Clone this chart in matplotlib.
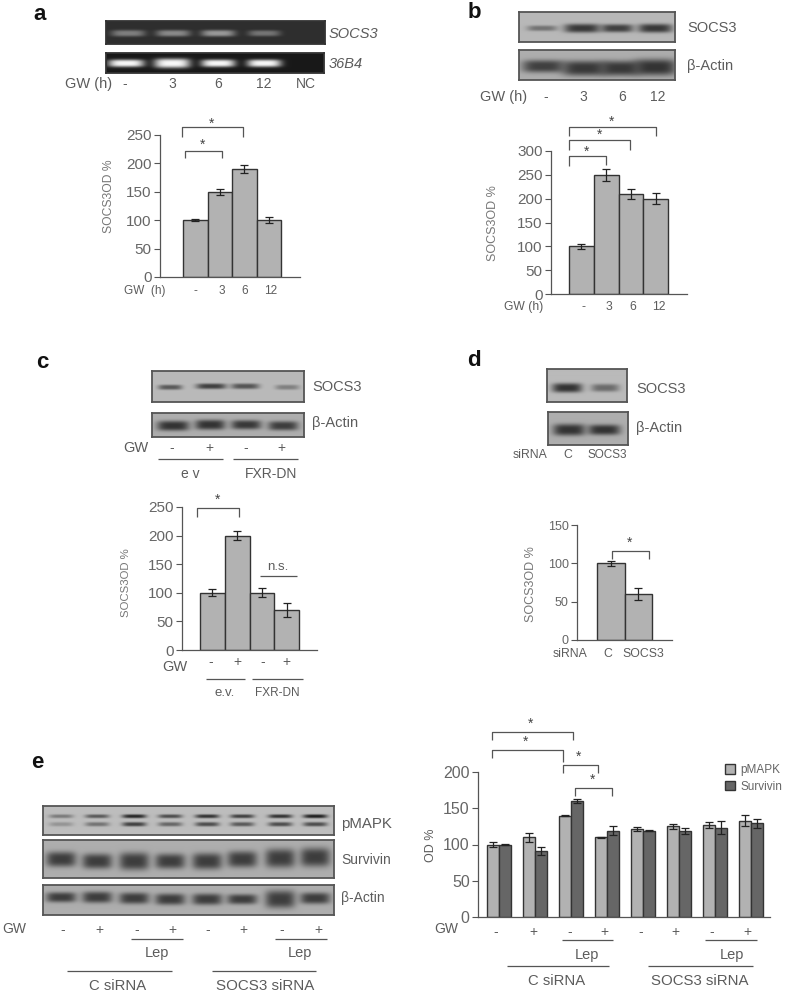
import numpy as np
import matplotlib
matplotlib.use("Agg")
import matplotlib.pyplot as plt

W, H = 787, 993
plt.rcParams['font.family'] = ['Liberation Sans', 'DejaVu Sans']
TXT = '#5c5c5c'
AX = '#555555'
BAR = '#b2b2b2'
BAR2 = '#666666'
EDGE = '#333333'

# ---- values ----
a_values = [100, 150, 190, 100]
a_errors = [1.5, 5, 7, 5]
a_ticks = [0, 50, 100, 150, 200, 250]
b_values = [100, 250, 210, 200]
b_errors = [5, 12, 10, 12]
b_ticks = [0, 50, 100, 150, 200, 250, 300]
c_values = [100, 200, 100, 70]
c_errors = [6, 8, 8, 12]
c_ticks = [0, 50, 100, 150, 200, 250]
d_values = [100, 60]
d_errors = [3, 8]
d_ticks = [0, 50, 100, 150]
e_pmapk = [100, 110, 140, 110, 121, 125, 127, 133]
e_pmapk_err = [4, 6, 1, 1, 3, 3, 4, 8]
e_survivin = [100, 91, 160, 119, 119, 119, 123, 129]
e_survivin_err = [1, 5, 3, 6, 1, 4, 9, 6]
e_ticks = [0, 50, 100, 150, 200]

fig = plt.figure(figsize=(W / 100, H / 100), dpi=100, facecolor='white')


def px_axes(x0, x1, ytop, ybot):
    return fig.add_axes([x0 / W, 1 - ybot / H, (x1 - x0) / W, (ybot - ytop) / H])


def gel(box, bg, bands, edge='#555555'):
    """box = x0,x1,y0,y1 px; bands = (xc, yc, half-w, half-h, tone)."""
    x0, x1, y0, y1 = box
    xx, yy = np.meshgrid(np.arange(x0, x1, 0.5), np.arange(y0, y1, 0.5))
    img = np.full(xx.shape, float(bg))
    for xc, yc, hw, hh, tone in bands:
        m = np.exp(-np.abs((xx - xc) / hw) ** 4 - np.abs((yy - yc) / (hh * 1.25)) ** 3)
        img = img + (tone - img) * m
    ax = px_axes(x0, x1, y0, y1)
    ax.imshow(img, cmap='gray', vmin=0, vmax=1, aspect='auto', interpolation='bilinear')
    ax.set_xticks([])
    ax.set_yticks([])
    for s in ax.spines.values():
        s.set_color(edge)
        s.set_linewidth(1.3)


def style(ax, ticks, fs, ymax):
    ax.set_ylim(0, ymax)
    ax.set_yticks(ticks)
    ax.set_xticks([])
    ax.patch.set_alpha(0)
    ax.spines['top'].set_visible(False)
    ax.spines['right'].set_visible(False)
    for s in ('left', 'bottom'):
        ax.spines[s].set_color(AX)
        ax.spines[s].set_linewidth(0.9)
    ax.tick_params(axis='y', length=4, width=0.8, color=AX, labelcolor='#666666',
                   labelsize=fs, pad=2)


def single_chart(values, errors, ticks, ymax, ax_box, bar_left, bar_w, fs):
    x0, x1, ytop, ybot = ax_box
    ax = px_axes(x0, x1, ytop, ybot)
    c0 = bar_left + bar_w / 2
    ax.set_xlim((x0 - c0) / bar_w, (x1 - c0) / bar_w)
    pos = np.arange(len(values))
    ax.bar(pos, values, width=1.0, color=BAR, edgecolor=EDGE, linewidth=1.0,
           yerr=errors, error_kw=dict(ecolor='#222222', elinewidth=0.9, capsize=2.8, capthick=0.9))
    style(ax, ticks, fs, ymax)
    return ax


# ---- panel a ----
gel((106, 325, 21, 44), 0.18,
    [(128, 33, 17, 2.6, .5), (173, 33, 17, 2.6, .54), (218, 33, 17, 2.6, .6), (264, 33, 16, 2.4, .46)], '#333333')
gel((106, 324, 53, 73), 0.1,
    [(126, 63, 18, 3, .97), (172, 63, 18, 3.8, .97), (218, 63, 17, 3, .97), (264, 63, 17, 3, .97)], '#333333')
single_chart(a_values, a_errors, a_ticks, 250, (160, 300, 135, 277), 183, 24.5, 11)

# ---- panel b ----
gel((519, 675, 12, 42), 0.72,
    [(542, 28, 15, 2.2, .45), (582, 28, 18, 3.5, .22), (617, 28, 16, 3.2, .25), (655, 28, 17, 3.5, .22)])
gel((519, 675, 50, 80), 0.68,
    [(543, 66, 21, 5, .25), (584, 68, 22, 6, .22), (620, 68, 20, 6, .22), (655, 67, 21, 6.5, .2)])
single_chart(b_values, b_errors, b_ticks, 300, (551, 687, 151, 294), 569, 24.75, 11)

# ---- panel c ----
gel((152, 304, 371, 402), 0.73,
    [(170, 387, 12, 2, .35), (211, 386, 15, 2.2, .25), (245, 386, 14, 2.2, .33), (287, 387, 12, 2, .5)])
gel((152, 304, 413, 437), 0.68,
    [(173, 426, 16, 3.8, .2), (210, 425, 15, 3.8, .2), (246, 425, 15, 3.5, .22), (283, 426, 15, 3.5, .24)])
single_chart(c_values, c_errors, c_ticks, 250, (182, 317, 507, 650), 200, 24.75, 11)

# ---- panel d ----
gel((547, 627, 369, 402), 0.73, [(567, 388, 15, 3.6, .2), (605, 388, 14, 3, .42)])
gel((548, 628, 412, 445), 0.68, [(569, 430, 16, 4.5, .2), (604, 430, 16, 4, .2)])
single_chart(d_values, d_errors, d_ticks, 150, (577, 672, 525, 640), 597, 27.5, 9)

# ---- panel e gels ----
lanes = [61, 97, 134, 170, 207, 242, 280, 315]
upper = [.48, .35, .15, .3, .2, .25, .2, .12]
lower = [.58, .45, .25, .4, .3, .35, .3, .3]
gel((43, 334, 806, 835), 0.74,
    [(x, 816, 12, 1.5, t) for x, t in zip(lanes, upper)] +
    [(x, 824, 12, 1.7, t) for x, t in zip(lanes, lower)])
surv_h = [6, 6, 7, 6, 6.5, 6.5, 7.5, 7.5]
surv_y = [859, 861, 861, 861, 861, 859, 858, 857]
gel((43, 334, 840, 878), 0.68,
    [(x, y, 15, h, .24) for x, y, h in zip(lanes, surv_y, surv_h)])
act_h = [4, 4.5, 4.5, 4.5, 4.5, 4, 7, 4.5]
act_y = [897, 897, 898, 899, 899, 899, 899, 898]
gel((43, 334, 885, 915), 0.68,
    [(x, y, 15, h, .24) for x, y, h in zip(lanes, act_y, act_h)])

# ---- panel e chart ----
ax = px_axes(478, 770, 772, 917)
spacing = 36.0
first = 499.0
ax.set_xlim((478 - first) / spacing, (770 - first) / spacing)
pos = np.arange(len(e_pmapk))
ek = dict(ecolor='#222222', elinewidth=0.9, capsize=2.6, capthick=0.9)
ax.bar(pos - 0.17, e_pmapk, width=0.32, color=BAR, edgecolor=EDGE, linewidth=1.0, yerr=e_pmapk_err,
       error_kw=ek, label='pMAPK')
ax.bar(pos + 0.17, e_survivin, width=0.32, color=BAR2, edgecolor=EDGE, linewidth=1.0, yerr=e_survivin_err,
       error_kw=ek, label='Survivin')
style(ax, e_ticks, 11.5, 200)
leg = ax.legend(loc='upper left', bbox_to_anchor=((725 - 478) / 292, 1.055), frameon=False, fontsize=8.5,
                labelcolor='#666666', handlelength=0.85, handleheight=0.85, handletextpad=0.45,
                labelspacing=0.4, borderpad=0, borderaxespad=0)

# ---- overlay for labels and brackets, in picture pixels ----
ov = fig.add_axes([0, 0, 1, 1], zorder=20)
ov.set_xlim(0, W)
ov.set_ylim(H, 0)
ov.axis('off')


def T(x, y, s, fs=10, ha='center', color=TXT, **kw):
    ov.text(x, y, s, fontsize=fs, ha=ha, va='center', color=color, **kw)


def L(xs, ys, lw=0.9, color='#555555'):
    ov.plot(xs, ys, color=color, lw=lw, solid_capstyle='butt')


def bracket(x0, x1, top, bl, br, star=None):
    L([x0, x0, x1, x1], [bl, top, top, br])
    if star:
        T(star[0], star[1] + 2, '*', 10, color='#444444')


for x, y, s in [(40, 15, 'a'), (474, 12, 'b'), (42, 363, 'c'), (474, 360, 'd'), (37, 763, 'e')]:
    T(x, y, s, 16, color='#111111', fontweight='bold')

# a
T(329, 34, 'SOCS3', 10.5, 'left', style='italic')
T(329, 64, '36B4', 10.5, 'left', style='italic')
T(65, 84, 'GW (h)', 10.5, 'left')
for x, s in [(125, '-'), (172, '3'), (218, '6'), (264, '12'), (306, 'NC')]:
    T(x, 84, s, 10)
T(124, 291, 'GW  (h)', 8.5, 'left')
for x, s in [(195, '-'), (222, '3'), (245, '6'), (271, '12')]:
    T(x, 291, s, 8.5)
T(109, 196, 'SOCS3OD %', 8.7, rotation=90, color='#777777')
bracket(182, 243, 127, 137, 137, (212, 122))
bracket(185, 222, 151, 158, 158, (203, 143))

# b
T(687, 28, 'SOCS3', 10.5, 'left')
T(687, 66, 'β-Actin', 10.5, 'left')
T(480, 97, 'GW (h)', 10.5, 'left')
for x, s in [(546, '-'), (583, '3'), (622, '6'), (658, '12')]:
    T(x, 97, s, 10)
T(504, 307, 'GW (h)', 8.7, 'left')
for x, s in [(583, '-'), (609, '3'), (633, '6'), (659, '12')]:
    T(x, 307, s, 8.7)
T(493, 223, 'SOCS3OD %', 9, rotation=90, color='#777777')
bracket(569, 606, 156, 166, 165, (587, 150))
bracket(569, 630, 140, 150, 150, (600, 133))
bracket(569, 656, 127, 136, 136, (612, 120))

# c
T(312, 387, 'SOCS3', 10.5, 'left')
T(312, 423, 'β-Actin', 10.5, 'left')
T(123, 448, 'GW', 10.5, 'left')
for x, s in [(172, '-'), (209, '+'), (246, '-'), (281, '+')]:
    T(x, 448, s, 10)
L([158, 223], [459, 459])
L([233, 298], [459, 459])
T(190, 474, 'e v', 10)
T(271, 474, 'FXR-DN', 10)
T(126, 583, 'SOCS3OD %', 8.2, rotation=90, color='#777777')
bracket(197, 239, 508, 517, 517, (218, 498))
T(278, 567, 'n.s.', 9.5)
L([260, 297], [576, 576])
T(162, 667, 'GW', 10.5, 'left')
for x, s in [(211, '-'), (237, '+'), (263, '-'), (286, '+')]:
    T(x, 662, s, 10)
L([206, 245], [679, 679])
L([252, 303], [679, 679])
T(225, 693, 'e.v.', 9.5)
T(277, 693, 'FXR-DN', 8.5)

# d
T(636, 389, 'SOCS3', 10.5, 'left')
T(636, 428, 'β-Actin', 10.5, 'left')
T(513, 455, 'siRNA', 8.8, 'left')
T(568, 455, 'C', 8.8)
T(607, 455, 'SOCS3', 8.5)
T(531, 584, 'SOCS3OD %', 9, rotation=90, color='#777777')
T(553, 654, 'siRNA', 8.8, 'left')
T(608, 654, 'C', 8.8)
T(643, 654, 'SOCS3', 8.8)
bracket(612, 649, 551, 559, 559, (630, 541))

# e left
T(341, 824, 'pMAPK', 10.8, 'left')
T(341, 860, 'Survivin', 10, 'left')
T(341, 898, 'β-Actin', 10, 'left')
T(2, 929, 'GW', 10, 'left')
for x, s in zip([63, 99, 137, 172, 208, 243, 282, 318], '-+-+-+-+'):
    T(x, 930, s, 10)
L([131, 183], [939, 939])
L([275, 327], [939, 939])
T(157, 953, 'Lep', 10.5)
T(300, 953, 'Lep', 10.5)
L([67, 172], [971, 971])
L([212, 316], [971, 971])
T(118, 986, 'C siRNA', 10.7)
T(265, 986, 'SOCS3 siRNA', 10.9)

# e right
T(431, 845, 'OD %', 9, rotation=90)
T(434, 929, 'GW', 10, 'left')
for x, s in zip([496, 533, 570, 604, 641, 675, 712, 747], '-+-+-+-+'):
    T(x, 932, s, 10)
L([562, 613], [940, 940])
L([705, 757], [940, 940])
T(587, 955, 'Lep', 10.5)
T(732, 955, 'Lep', 10.5)
L([507, 609], [966, 966])
L([648, 753], [966, 966])
T(557, 981, 'C siRNA', 10.7)
T(700, 981, 'SOCS3 siRNA', 10.8)
bracket(492, 573, 732, 740, 740, (531, 722))
bracket(492, 563, 750, 758, 762, (526, 740))
bracket(563, 598, 765, 773, 773, (579, 755))
bracket(575, 612, 788, 796, 796, (593, 778))

fig.savefig('out.png', dpi=100, facecolor='white')
